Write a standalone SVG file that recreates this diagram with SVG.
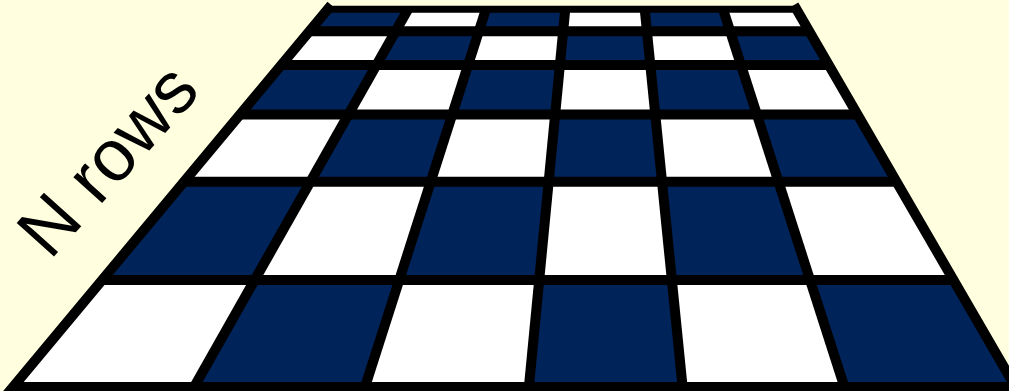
<svg xmlns="http://www.w3.org/2000/svg" width="1009" height="391" viewBox="0 0 1009 391">
  <style>
    .dark { fill: #00235A; }
    .grid { stroke: #000; stroke-width: 10; fill: none; stroke-linejoin: miter; }
    .label { font-family: "Liberation Sans", Arial, sans-serif; font-size: 73px; fill: #000; }
  </style>
  <rect x="0" y="0" width="1009" height="391" fill="#FFFFE0"/>
  <g id="board">
    <polygon points="329,9 796.3,9 1015.5,387 13,387" fill="#FFFFFF"/>
    <g id="dark-cells" class="dark">
      <polygon points="329,9 408.2,9 395.6,31.3 310.4,31.3"/>
      <polygon points="486,9 565.3,9 563.2,31.3 478.9,31.3"/>
      <polygon points="644.7,9 723,9 730.2,31.3 646.9,31.3"/>
      <polygon points="395.6,31.3 478.9,31.3 468.1,65 376.5,65"/>
      <polygon points="563.2,31.3 646.9,31.3 650.3,65 559.9,65"/>
      <polygon points="730.2,31.3 809.2,31.3 828.8,65 741,65"/>
      <polygon points="282.2,65 376.5,65 348.4,114.5 240.8,114.5"/>
      <polygon points="468.1,65 559.9,65 555.1,114.5 452.2,114.5"/>
      <polygon points="650.3,65 741,65 756.9,114.5 655.3,114.5"/>
      <polygon points="348.4,114.5 452.2,114.5 430.7,181.7 310.4,181.7"/>
      <polygon points="555.1,114.5 655.3,114.5 662,181.7 548.7,181.7"/>
      <polygon points="756.9,114.5 857.5,114.5 896.5,181.7 778.5,181.7"/>
      <polygon points="184.6,181.7 310.4,181.7 254.7,280 102.5,280"/>
      <polygon points="430.7,181.7 548.7,181.7 539.2,280 399.3,280"/>
      <polygon points="662,181.7 778.5,181.7 810,280 671.9,280"/>
      <polygon points="254.7,280 399.3,280 365,387 194.1,387"/>
      <polygon points="539.2,280 671.9,280 682.6,387 528.9,387"/>
      <polygon points="810,280 953.5,280 1015.5,387 844.4,387"/>
    </g>
    <g id="grid-lines" class="grid">
      <line x1="310.4" y1="31.3" x2="809.2" y2="31.3"/>
      <line x1="282.2" y1="65" x2="828.8" y2="65"/>
      <line x1="240.8" y1="114.5" x2="857.5" y2="114.5"/>
      <line x1="184.6" y1="181.7" x2="896.5" y2="181.7"/>
      <line x1="102.5" y1="280" x2="953.5" y2="280"/>
      <line x1="408.2" y1="9" x2="194.1" y2="387"/>
      <line x1="486" y1="9" x2="365" y2="387"/>
      <line x1="565.3" y1="9" x2="528.9" y2="387"/>
      <line x1="644.7" y1="9" x2="682.6" y2="387"/>
      <line x1="723" y1="9" x2="844.4" y2="387"/>
      <polyline points="331.3,5 13,387 1015.5,387 794,5"/>
      <line x1="326" y1="9.3" x2="799" y2="9.3" stroke-width="7"/>
    </g>
  </g>
  <g id="label">
    <text class="label" transform="translate(50,261) rotate(-48)">N rows</text>
  </g>
</svg>
